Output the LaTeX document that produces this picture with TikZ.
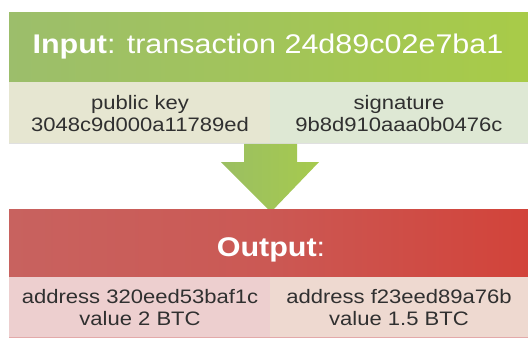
\documentclass[tikz,border=0pt]{standalone}
\usepackage{fontspec}
\setmainfont{Liberation Sans}[FakeStretch=1.13]
\usetikzlibrary{calc}

\definecolor{hdrgreenL}{HTML}{9CBE6B}
\definecolor{hdrgreenR}{HTML}{A8CB48}
\definecolor{rowbeige}{HTML}{E6E6D1}
\definecolor{rowgreen}{HTML}{DEE8D4}
\definecolor{arrowL}{HTML}{9BBF62}
\definecolor{arrowR}{HTML}{A6CA4E}
\definecolor{hdrredL}{HTML}{C8625F}
\definecolor{hdrredR}{HTML}{D2433A}
\definecolor{rowpink}{HTML}{EDCFCF}
\definecolor{rowpeach}{HTML}{EED9D0}
\definecolor{celltext}{HTML}{303030}
\definecolor{edgepink}{HTML}{E3A9A9}

\tikzset{
  headtext/.style={text=white, font=\fontsize{27}{30}\selectfont, inner sep=0pt, anchor=base},
  celltext/.style={text=celltext, font=\fontsize{19.5}{22}\selectfont, align=center, inner sep=0pt},
}

\begin{document}
\begin{tikzpicture}[x=1pt,y=-1pt]
  \useasboundingbox (0,0) rectangle (528,338);
  \fill[white] (0,0) rectangle (528,338);

  % input block
  \shade[left color=hdrgreenL, right color=hdrgreenR] (9,12) rectangle (528,82);
  \fill[rowbeige] (9,82) rectangle (270,143);
  \fill[rowgreen] (270,82) rectangle (528,143);
  \draw[black!12, line width=0.8pt] (9,143.4) -- (528,143.4);

  \node[headtext] (inhead) at (268,53) {\textbf{Input}: transaction 24d89c02e7ba1};
  \node[celltext] (pubkey) at (140,114) {public key\\3048c9d000a11789ed};
  \node[celltext] (sig) at (399,114) {signature\\9b8d910aaa0b0476c};

  % arrow from inputs to outputs
  \shade[left color=arrowL, right color=arrowR]
    (244,143.8) -- (297,143.8) -- (297,162) -- (319,162) -- (271,212)
    -- (221,162) -- (244,162) -- cycle;

  % output block
  \shade[left color=hdrredL, right color=hdrredR, middle color=hdrredL!70!hdrredR]
    (9,209) rectangle (528,277);
  \fill[rowpink] (9,277) rectangle (270,338);
  \fill[rowpeach] (270,277) rectangle (528,338);
  \draw[edgepink, line width=1pt] (9,337.5) -- (528,337.5);

  \node[headtext] (outhead) at (271,256) {\textbf{Output}:};
  \node[celltext] (addr1) at (140,308) {address 320eed53baf1c\\value 2 BTC};
  \node[celltext] (addr2) at (399,308) {address f23eed89a76b\\value 1.5 BTC};
\end{tikzpicture}
\end{document}
